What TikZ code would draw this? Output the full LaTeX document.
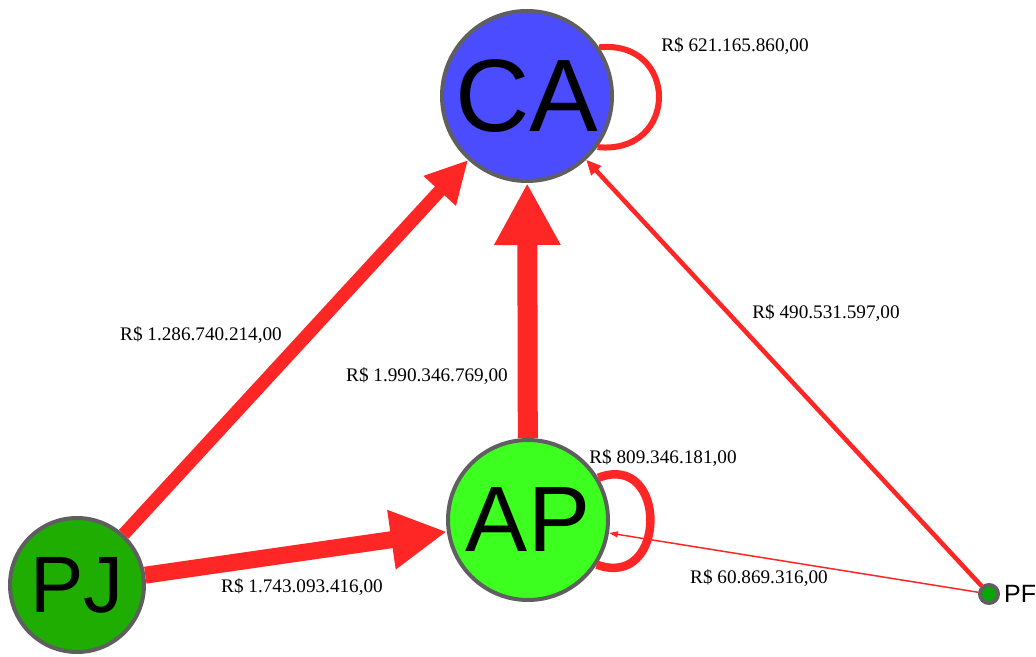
\documentclass[tikz,border=0pt]{standalone}
\usepackage{fontspec}
\setmainfont{Liberation Serif}
\newfontfamily\knotfont{Liberation Sans}
\usetikzlibrary{arrows.meta, positioning}

\definecolor{kantenrot}{HTML}{FF2626}
\definecolor{randgrau}{HTML}{5F5F5F}
\definecolor{cablau}{HTML}{4B4BFF}
\definecolor{apgruen}{HTML}{3DFF1F}
\definecolor{pjgruen}{HTML}{1EAD00}
\definecolor{pfgruen}{HTML}{00AA00}

\begin{document}
\begin{tikzpicture}[x=1pt, y=1pt,
  knoten/.style={draw=randgrau, line width=4pt, circle, inner sep=0pt},
  kante/.style={draw=kantenrot},
  betrag/.style={font=\fontsize{19.2}{21}\selectfont, inner sep=1pt}]
  \useasboundingbox (0,0) rectangle (1036,656);

  % Knoten
  \node[knoten, fill=cablau, minimum size=170pt, font=\knotfont\fontsize{103}{103}\selectfont] (ca) at (527,560) {CA};
  \node[knoten, fill=apgruen, minimum size=160pt, font=\knotfont\fontsize{93}{93}\selectfont] (ap) at (528,136) {AP};
  \node[knoten, fill=pjgruen, minimum size=134pt, font=\knotfont\fontsize{80}{80}\selectfont] (pj) at (77,71) {PJ};
  \node[knoten, fill=pfgruen, minimum size=18pt] (pf) at (989,62) {};
  \node[right=3pt of pf, inner sep=1pt, font=\knotfont\fontsize{25}{25}\selectfont] (pfname) {PF};

  % Kanten
  \draw[kante, line width=13pt, -{Triangle[length=42pt, width=41pt]}] (pj) -- (ca);
  \draw[kante, line width=20pt, -{Triangle[length=62pt, width=62pt]}] (ap) -- (ca);
  \draw[kante, line width=17pt, -{Triangle[length=56pt, width=56pt]}] (pj) -- (ap);
  \draw[kante, line width=4.5pt, -{Triangle[length=15pt, width=13pt]}] (pf) -- (ca);
  \draw[kante, line width=1.5pt, -{Triangle[length=9pt, width=6pt]}] (pf) -- (ap);
  % Schleifen
  \draw[kante, line width=6pt] (ca.34) .. controls +(80,8) and +(82,-8) .. (ca.-36);
  \draw[kante, line width=8.5pt] (ap.31) .. controls +(70,27) and +(71,-26) .. (ap.-33);

  % Betraege
  \node[betrag] (b-caca) at (735,610) {R\$ 621.165.860,00};
  \node[betrag] (b-pjca) at (201,321) {R\$ 1.286.740.214,00};
  \node[betrag] (b-apca) at (427,280) {R\$ 1.990.346.769,00};
  \node[betrag] (b-pfca) at (826,343) {R\$ 490.531.597,00};
  \node[betrag] (b-apap) at (663,198) {R\$ 809.346.181,00};
  \node[betrag] (b-pjap) at (302,69) {R\$ 1.743.093.416,00};
  \node[betrag] (b-pfap) at (759,78) {R\$ 60.869.316,00};
\end{tikzpicture}
\end{document}
